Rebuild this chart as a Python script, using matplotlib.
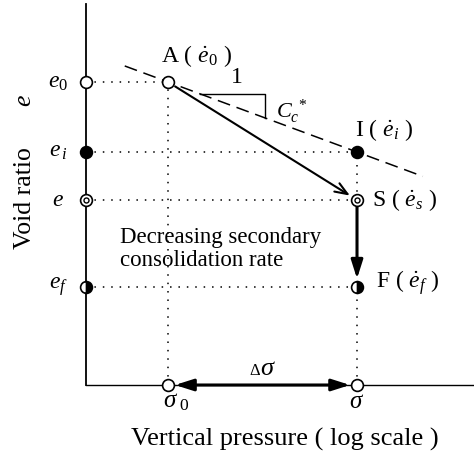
import numpy as np
import matplotlib.pyplot as plt

plt.rcParams['font.family'] = ['Liberation Serif', 'DejaVu Serif']
plt.rcParams['mathtext.fontset'] = 'custom'
plt.rcParams['mathtext.rm'] = 'Liberation Serif'
plt.rcParams['mathtext.it'] = 'Liberation Serif:italic'
plt.rcParams['mathtext.bf'] = 'Liberation Serif:bold'

# schematic values: stresses on a log axis, void ratios
sigma0 = 10.0
sigma1 = 100.0
cc_star = 0.07

point_names = ["A", "I", "S", "F"]
point_sigma = [sigma0, sigma1, sigma1, sigma1]
point_e = [1.000, 0.930, 0.882, 0.795]
point_labels = [r"A ( $\dot{e}_{\mathit{0}}$ )", r"I ( $\dot{e}_{\mathit{i}}$ )",
                r"S ( $\dot{e}_{\mathit{s}}$ )", r"F ( $\dot{e}_{\mathit{f}}$ )"]

axis_labels = [r"$e_{\mathit{0}}$", r"$e_{\,\mathit{i}}$", r"$e$", r"$e_{\mathit{f}}$"]

cc_line_sigma = [5.9, 223.0]
tri_sigma = [14.8, 32.6]

# marker look for each state
marker_kind = {"A": "open", "I": "filled", "S": "ring", "F": "half"}

fig = plt.figure(figsize=(4.74, 4.58), dpi=100)
ax = fig.add_axes([86 / 474, 73 / 458, 388 / 474, 381 / 458])
ax.set_xscale('log')
xmin, xmax = 3.68, 416
ymin, ymax = 0.697, 1.078
ax.set_xlim(xmin, xmax)
ax.set_ylim(ymin, ymax)
ax.spines['top'].set_visible(False)
ax.spines['right'].set_visible(False)
ax.spines['left'].set_linewidth(1.3)
ax.spines['bottom'].set_linewidth(1.0)
ax.tick_params(which='both', length=0, labelbottom=False, labelleft=False)
ax.patch.set_alpha(0)

dot = dict(color='k', lw=1.1, ls=(0, (1, 4.5)), zorder=1)
for s, e in zip(point_sigma, point_e):
    ax.plot([xmin, s], [e, e], **dot)
ax.plot([sigma0, sigma0], [ymin, point_e[0]], **dot)
ax.plot([sigma1, sigma1], [ymin, point_e[1]], **dot)

# compression line with slope Cc*
def cc_e(s):
    return point_e[0] - cc_star * np.log10(np.array(s) / sigma0)

ax.plot(cc_line_sigma, cc_e(cc_line_sigma), color='k', lw=1.1, ls=(0, (8.5, 4.5)), zorder=1)
t0, t1 = tri_sigma
ax.plot([t0, t1, t1], [cc_e(t0), cc_e(t0), cc_e(t1)], color='k', lw=1.0, zorder=1)
ax.text(np.sqrt(t0 * t1) * 1.05, cc_e(t0) + 0.006, "1", fontsize=17, ha='center', va='bottom')
ax.annotate(r"$C_c^{\ *}$", (t1, cc_e(t1)), xytext=(8, 4), textcoords='offset points',
            fontsize=16, ha='left', va='center')

# arrows
ax.annotate("", xy=(point_sigma[2], point_e[2]), xytext=(point_sigma[0], point_e[0]),
            arrowprops=dict(arrowstyle='->,head_length=0.9,head_width=0.35', lw=1.5,
                            color='k', shrinkA=6, shrinkB=6))
ax.annotate("", xy=(point_sigma[3], point_e[3]), xytext=(point_sigma[2], point_e[2]),
            arrowprops=dict(arrowstyle='-|>,head_length=1.1,head_width=0.35', lw=2.2,
                            color='k', shrinkA=5, shrinkB=6))
ax.annotate("", xy=(sigma1, ymin), xytext=(sigma0, ymin), annotation_clip=False,
            arrowprops=dict(arrowstyle='<|-|>,head_length=1.1,head_width=0.35', lw=2.2,
                            color='k', shrinkA=5, shrinkB=5))

def draw_marker(x, y, kind):
    kw = dict(ms=8.5, mew=1.2, mec='k', clip_on=False, zorder=5, ls='none')
    if kind == "open":
        ax.plot(x, y, 'o', mfc='white', **kw)
    elif kind == "filled":
        ax.plot(x, y, 'o', mfc='k', **kw)
    elif kind == "ring":
        ax.plot(x, y, 'o', mfc='white', **kw)
        ax.plot(x, y, 'o', ms=3.6, mew=1.0, mfc='white', mec='k', clip_on=False, zorder=6)
    else:
        ax.plot(x, y, 'o', mfc='k', fillstyle='right', markerfacecoloralt='white', **kw)

for name, s, e in zip(point_names, point_sigma, point_e):
    draw_marker(s, e, marker_kind[name])
    draw_marker(xmin, e, marker_kind[name])
draw_marker(sigma0, ymin, "open")
draw_marker(sigma1, ymin, "open")

# point labels
label_offsets = {"A": (-5, 19), "I": (-1.5, 16), "S": (11, 0), "F": (13.5, 3)}
for name, s, e, lab in zip(point_names, point_sigma, point_e, point_labels):
    ax.annotate(lab, (s, e), xytext=label_offsets[name], textcoords='offset points',
                fontsize=17, ha='left', va='center')

for e, lab in zip(point_e, axis_labels):
    ax.annotate(lab, (xmin, e), xytext=(-20, 0), textcoords='offset points',
                fontsize=17, ha='center', va='center', annotation_clip=False)

ax.annotate(r"$\sigma_{\ 0}$", (sigma0, ymin), xytext=(6, -12), textcoords='offset points',
            fontsize=18, ha='center', va='center', annotation_clip=False)
ax.annotate(r"$\sigma$", (sigma1, ymin), xytext=(0, -12), textcoords='offset points',
            fontsize=18, ha='center', va='center', annotation_clip=False)
mid = np.sqrt(sigma0 * sigma1)
ax.annotate("\u0394", (mid, ymin), xytext=(-6, 7), textcoords='offset points',
            fontsize=12, ha='center', va='baseline')
ax.annotate(r"$\sigma$", (mid, ymin), xytext=(4, 7), textcoords='offset points',
            fontsize=19, ha='center', va='baseline')

ax.text(5.57, 0.845, "Decreasing secondary", fontsize=16.5, ha='left', va='center')
ax.text(5.57, 0.822, "consolidation rate", fontsize=16.5, ha='left', va='center')

fig.text(285 / 474, 1 - 439 / 458, "Vertical pressure ( log scale )", fontsize=19,
         ha='center', va='center')
fig.text(25 / 474, 1 - 198 / 458, "Void ratio", fontsize=18.5, rotation=90,
         ha='center', va='center')
fig.text(25 / 474, 1 - 101 / 458, r"$e$", fontsize=18.5, rotation=90,
         ha='center', va='center')

fig.savefig("out.png", dpi=100)
